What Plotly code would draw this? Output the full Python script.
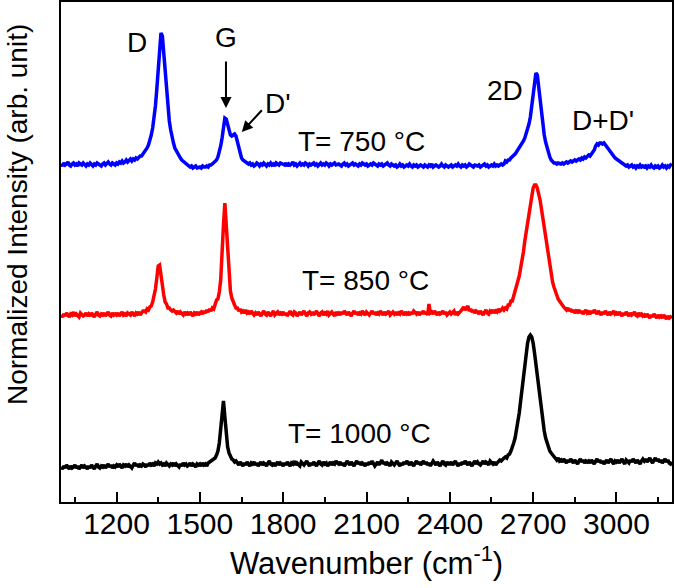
import plotly.graph_objects as go

# Raman shift sampling grid (cm^-1), 5 cm^-1 step from 1000 to 3200
WN_START, WN_STOP, WN_STEP = 1000, 3200, 5
wavenumber = list(range(WN_START, WN_STOP + 1, WN_STEP))

# Normalized intensities (arb. units, curves already offset)
blue_750 = [
    338,336,339,337,338,340,337,336,338,339,337,338,336,339,338,337,339,338,336,338,
    337,339,338,336,338,337,339,338,337,336,338,339,337,338,340,338,337,339,338,337,
    339,338,340,339,341,339,340,342,340,341,343,341,343,342,344,343,345,346,346,348,
    350,351,354,357,361,367,374,383,396,413,433,454,469,466,450,429,409,393,381,372,
    364,359,354,351,348,346,344,342,341,339,338,337,336,335,336,334,335,336,334,335,
    335,334,336,335,335,336,335,337,337,338,339,340,342,345,350,356,364,375,384,383,
    377,371,367,366,367,368,366,360,353,348,344,342,341,340,339,338,339,337,338,336,
    337,339,338,336,338,337,339,338,336,338,337,339,337,338,336,339,338,337,339,338,
    338,337,339,336,338,337,338,340,337,338,336,338,339,337,338,337,339,338,336,338,
    337,338,339,337,338,336,338,339,337,338,337,339,338,336,338,337,338,339,337,338,
    338,337,336,338,339,337,338,336,337,338,339,337,338,337,336,338,337,339,338,337,
    338,336,337,338,337,339,338,337,336,338,337,338,336,337,338,339,337,336,338,337,
    336,337,335,336,338,336,337,335,336,337,336,338,336,335,337,336,337,335,336,337,
    336,335,337,336,335,337,336,338,335,336,337,336,335,336,338,336,335,337,336,335,
    336,337,335,336,337,336,338,336,335,337,336,337,335,336,338,337,336,335,337,336,
    336,337,335,336,337,338,336,337,335,336,337,336,338,336,337,336,337,338,337,338,
    341,340,342,342,344,345,346,348,350,352,354,356,359,361,364,368,372,378,385,395,
    407,421,429,427,415,399,386,375,367,360,354,349,345,342,340,339,339,338,339,338,
    338,339,338,339,340,339,340,341,340,341,342,341,342,343,342,344,343,345,344,346,
    347,346,348,349,352,356,358,357,359,359,358,359,357,356,353,351,349,347,346,344,
    343,342,340,339,338,338,337,336,337,335,336,337,335,336,334,336,335,337,335,336,
    335,336,334,336,335,337,335,334,336,335,336,334,335,337,335,336,334,336,335,337,
    336,
]

red_850 = [
    187,185,188,186,189,187,185,188,187,190,186,188,187,185,189,188,186,187,189,186,
    188,186,189,187,185,188,190,187,186,188,187,189,186,188,190,187,186,189,187,188,
    187,189,186,188,190,187,188,186,189,188,187,190,188,186,189,188,190,187,189,191,
    191,190,193,192,195,196,200,205,213,224,236,237,226,216,207,200,198,194,194,192,
    191,192,190,189,191,188,190,189,187,190,188,189,187,190,188,186,189,188,190,187,
    189,190,188,191,189,192,190,193,191,194,193,197,202,203,210,222,243,277,299,277,
    243,222,211,204,199,197,194,194,191,193,190,191,189,192,189,190,188,191,189,187,
    189,187,190,188,186,189,191,188,187,190,188,186,189,191,187,188,190,187,189,188,
    190,187,189,186,188,191,188,187,190,189,186,188,190,187,189,191,188,186,189,190,
    188,190,187,189,191,188,186,189,190,187,189,188,191,187,189,190,188,186,190,188,
    189,187,190,188,191,189,187,190,188,186,189,191,188,190,187,189,188,191,189,187,
    190,188,187,189,191,188,190,187,189,188,191,189,187,190,188,189,191,187,189,190,
    188,190,187,189,188,191,189,187,190,188,189,187,190,188,191,189,188,190,187,189,
    189,191,188,190,187,198,189,190,188,191,189,187,190,188,189,191,188,190,187,189,
    190,188,189,191,187,190,188,189,191,193,195,192,194,196,191,193,190,192,189,191,
    190,188,191,189,187,190,192,189,188,191,190,192,189,191,190,193,191,192,194,192,
    194,193,197,197,201,201,206,208,214,218,226,234,241,250,261,270,281,291,300,308,
    314,317,317,314,309,302,293,284,273,263,252,244,235,228,220,215,210,207,203,201,
    198,197,195,194,192,194,191,193,190,192,189,191,190,192,189,191,188,190,192,189,
    190,188,191,189,192,190,188,191,189,187,190,188,191,189,187,190,188,189,191,188,
    189,187,190,188,186,189,187,190,188,186,189,187,188,190,187,186,189,187,188,186,
    187,185,188,186,184,187,185,188,186,184,187,185,186,184,187,185,183,186,184,185,
    186,
]

black_1000 = [
    35,33,36,34,37,35,33,36,34,35,37,34,36,33,35,37,34,36,35,33,
    36,34,37,35,33,36,38,35,34,36,35,37,34,36,38,35,37,34,36,35,
    37,35,38,36,34,37,36,38,35,37,36,34,37,39,36,38,35,37,36,38,
    37,35,38,36,39,37,38,36,39,38,40,38,39,37,38,36,39,37,36,38,
    37,39,36,38,37,35,38,36,39,37,38,36,37,39,36,38,37,35,38,37,
    38,36,39,37,38,36,39,40,40,41,42,44,47,51,59,73,93,101,85,66,
    55,49,45,43,42,40,41,39,37,40,38,36,39,37,40,38,36,39,38,40,
    37,39,36,38,40,37,39,38,36,39,41,38,37,39,36,38,40,37,39,38,
    36,39,37,40,38,36,39,38,41,37,39,38,36,40,38,37,39,41,38,36,
    39,37,40,38,36,39,41,38,37,40,38,39,36,38,40,37,39,38,41,39,
    38,40,37,39,36,38,41,39,37,40,38,36,39,41,38,40,37,39,38,36,
    39,37,40,38,41,39,36,38,40,37,39,42,38,40,37,39,38,36,40,38,
    37,39,41,38,36,39,37,40,38,41,39,37,40,38,36,39,41,38,40,37,
    39,41,38,40,37,39,36,38,41,39,37,40,38,36,39,41,38,37,40,38,
    38,40,37,39,41,38,36,39,37,40,38,41,39,37,40,38,36,39,41,38,
    40,38,37,39,41,38,40,39,37,41,39,38,40,37,39,41,42,41,43,44,
    45,44,47,48,51,54,59,64,71,80,89,101,113,125,138,149,159,165,167,165,
    159,149,138,126,113,101,89,80,71,64,59,54,51,49,47,45,44,42,44,41,
    42,40,43,41,39,42,40,43,41,39,42,40,38,41,43,40,42,39,41,40,
    41,39,42,40,38,41,43,40,42,39,41,38,40,42,39,41,43,40,38,41,
    40,42,39,41,43,40,38,42,41,39,42,40,43,41,39,42,40,38,41,43,
    41,43,40,42,44,41,39,42,44,41,43,40,42,39,41,43,40,42,39,38,
    40,
]

series_names = ["T= 750 °C", "T= 850 °C", "T= 1000 °C"]
series_values = [blue_750, red_850, black_1000]
series_colors = ["#0000FF", "#FF0000", "#000000"]

x_tick_values = [1200, 1500, 1800, 2100, 2400, 2700, 3000]
x_tick_labels = ["1200", "1500", "1800", "2100", "2400", "2700", "3000"]

FONT = "Liberation Sans, Arial, sans-serif"

fig = go.Figure()
for name, vals, col in zip(series_names, series_values, series_colors):
    n = min(len(vals), len(wavenumber))
    fig.add_trace(go.Scatter(x=wavenumber[:n], y=vals[:n], mode="lines", name=name,
                             line=dict(color=col, width=3.5), showlegend=False,
                             hoverinfo="skip"))

# Text labels (peak names and temperatures), in data coordinates
labels = [
    ("D", 1273, 460), ("G", 1594, 465), ("D'", 1781, 399),
    ("T= 750 °C", 2083, 361), ("2D", 2597, 412), ("D+D'", 2950, 382),
    ("T= 850 °C", 2097, 222), ("T= 1000 °C", 2076, 69),
]
for txt, lx, ly in labels:
    fig.add_annotation(x=lx, y=ly, text=txt, showarrow=False,
                       xanchor="center", yanchor="middle",
                       font=dict(family=FONT, size=28, color="black"))

# Arrows for G and D'
arrows = [((1594, 394), (1594, 449)), ((1651, 370), (1734, 395))]
for (hx, hy), (tx, ty) in arrows:
    fig.add_annotation(x=hx, y=hy, ax=tx, ay=ty, xref="x", yref="y", axref="x", ayref="y",
                       text=" ", showarrow=True, arrowhead=2, arrowsize=1.1,
                       arrowwidth=2, arrowcolor="black")

# Y axis title
fig.add_annotation(xref="paper", yref="paper", x=-0.072, y=0.574, text="Normalized Intensity (arb. unit)",
                   textangle=-90, showarrow=False, xanchor="center", yanchor="middle",
                   font=dict(family=FONT, size=28, color="black"))

fig.update_layout(
    width=675, height=588,
    margin=dict(l=61, r=3, t=2, b=86, autoexpand=False),
    plot_bgcolor="white", paper_bgcolor="white",
    font=dict(family=FONT, color="black"),
)
fig.update_xaxes(
    range=[1000, 3200], showline=True, linewidth=2, linecolor="black", mirror=True,
    ticks="inside", ticklen=10, tickwidth=2, tickcolor="black",
    tickvals=x_tick_values, ticktext=x_tick_labels,
    minor=dict(dtick=150, tick0=1050, ticks="inside", ticklen=5, tickwidth=2, tickcolor="black", showgrid=False),
    showgrid=False, zeroline=False, tickfont=dict(family=FONT, size=30),
    ticklabelstandoff=-6,
    title=dict(text="Wavenumber (cm<sup>-1</sup>)", font=dict(family=FONT, size=31), standoff=13),
)
fig.update_yaxes(
    range=[0, 500], showline=True, linewidth=2, linecolor="black", mirror=True,
    ticks="", showticklabels=False, showgrid=False, zeroline=False,
)

fig.write_html("out.html", config={"displayModeBar": False},
               post_script="document.body.style.margin='0';document.body.style.overflow='hidden';")
